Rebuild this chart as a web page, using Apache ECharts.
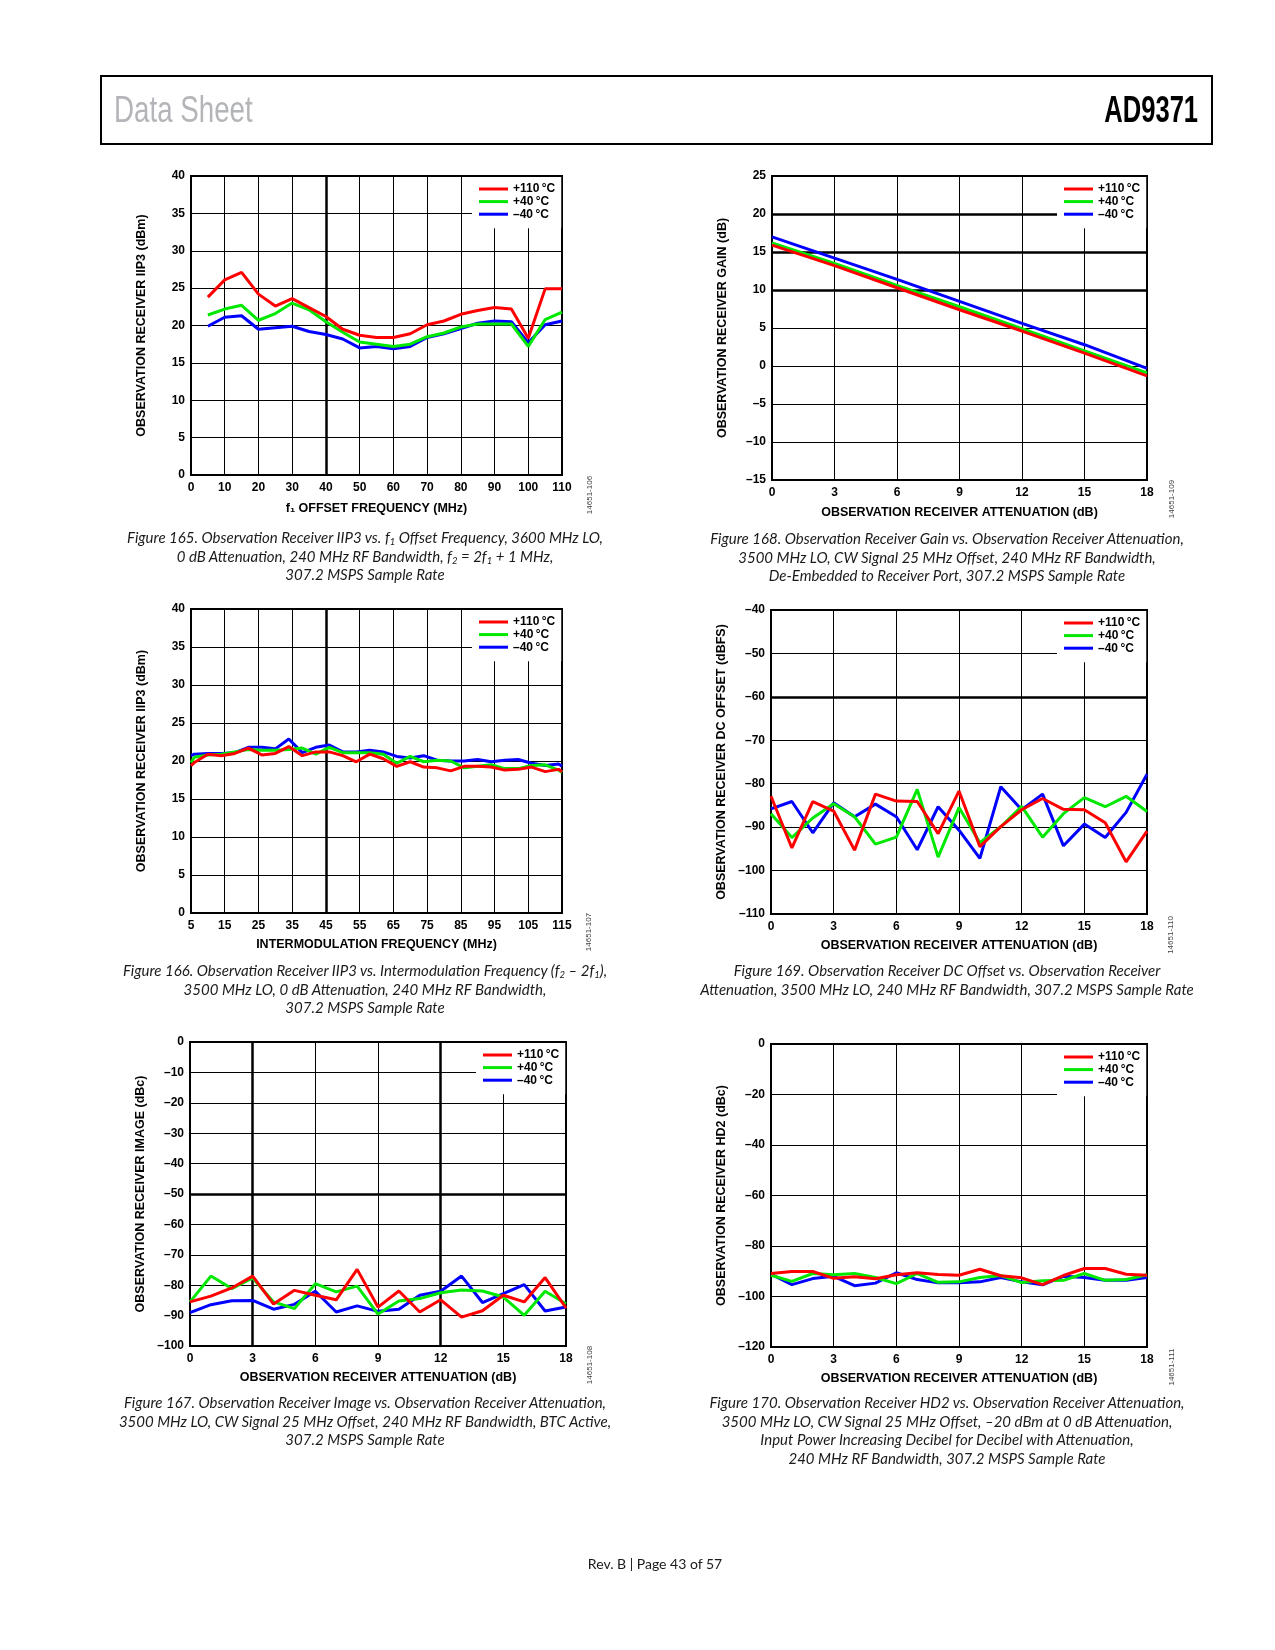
<!DOCTYPE html>
<html><head><meta charset="utf-8">
<script src="https://cdn.jsdelivr.net/npm/echarts@6/dist/echarts.min.js"></script>
<style>
html,body{margin:0;padding:0;background:#fff;}
#page{position:relative;width:1275px;height:1650px;overflow:hidden;background:#fff;}
#chart{position:absolute;left:0;top:0;width:1275px;height:1650px;}
.hdr{position:absolute;left:100px;top:75px;width:1109px;height:66px;border:2px solid #000;}
.ds{position:absolute;left:114px;top:92px;font-family:"Liberation Sans",Arial,sans-serif;font-size:36px;line-height:36px;color:#b3b5b8;transform:scaleX(0.77);transform-origin:left center;white-space:nowrap;}
.pn{position:absolute;right:77px;top:92px;font-family:"Liberation Sans",Arial,sans-serif;font-weight:bold;font-size:36px;line-height:36px;color:#000;transform:scaleX(0.71);transform-origin:right center;white-space:nowrap;}
.cap{position:absolute;width:600px;text-align:center;font-family:Lato,"Open Sans",sans-serif;font-style:italic;font-size:15px;line-height:18.5px;color:#1a1a1a;white-space:nowrap;}
.cap sub{font-size:9.5px;line-height:0;vertical-align:baseline;position:relative;top:2px;}
.foot{position:absolute;left:455px;width:400px;top:1556px;text-align:center;font-family:Lato,"Open Sans",sans-serif;font-size:14px;line-height:16px;color:#1a1a1a;}
</style></head>
<body><div id="page">
<div id="chart"></div>
<div class="hdr"></div>
<div class="ds">Data Sheet</div>
<div class="pn">AD9371</div>
<div class="cap" style="left:65px;top:528px;">Figure 165. Observation Receiver IIP3 vs. f<sub>1</sub> Offset Frequency, 3600 MHz LO,<br>0 dB Attenuation, 240 MHz RF Bandwidth, f<sub>2</sub> = 2f<sub>1</sub> + 1 MHz,<br>307.2 MSPS Sample Rate</div>
<div class="cap" style="left:65px;top:961px;">Figure 166. Observation Receiver IIP3 vs. Intermodulation Frequency (f<sub>2</sub> – 2f<sub>1</sub>),<br>3500 MHz LO, 0 dB Attenuation, 240 MHz RF Bandwidth,<br>307.2 MSPS Sample Rate</div>
<div class="cap" style="left:65px;top:1393px;">Figure 167. Observation Receiver Image vs. Observation Receiver Attenuation,<br>3500 MHz LO, CW Signal 25 MHz Offset, 240 MHz RF Bandwidth, BTC Active,<br>307.2 MSPS Sample Rate</div>
<div class="cap" style="left:647px;top:529px;">Figure 168. Observation Receiver Gain vs. Observation Receiver Attenuation,<br>3500 MHz LO, CW Signal 25 MHz Offset, 240 MHz RF Bandwidth,<br>De-Embedded to Receiver Port, 307.2 MSPS Sample Rate</div>
<div class="cap" style="left:647px;top:961px;">Figure 169. Observation Receiver DC Offset vs. Observation Receiver<br>Attenuation, 3500 MHz LO, 240 MHz RF Bandwidth, 307.2 MSPS Sample Rate</div>
<div class="cap" style="left:647px;top:1393px;">Figure 170. Observation Receiver HD2 vs. Observation Receiver Attenuation,<br>3500 MHz LO, CW Signal 25 MHz Offset, –20 dBm at 0 dB Attenuation,<br>Input Power Increasing Decibel for Decibel with Attenuation,<br>240 MHz RF Bandwidth, 307.2 MSPS Sample Rate</div>
<div class="foot">Rev. B | Page 43 of 57</div>
</div>
<script>
// ---------- DATA ----------
const seriesNames = ['+110\u2009°C', '+40\u2009°C', '–40\u2009°C'];
const seriesColors = ['#ff0000', '#00e800', '#0000ff'];

// Figure 165
const fig165_x = [5,10,15,20,25,30,35,40,45,50,55,60,65,70,75,80,85,90,95,100,105,110];
const fig165_red = [23.8,26.1,27.1,24.2,22.6,23.6,22.4,21.2,19.5,18.7,18.4,18.4,18.9,20.1,20.6,21.5,22.0,22.4,22.2,18.3,24.9,24.9];
const fig165_green = [21.4,22.2,22.7,20.7,21.6,23.0,22.1,20.5,19.1,17.8,17.5,17.2,17.5,18.5,19.0,19.8,20.2,20.2,20.2,17.2,20.8,21.8];
const fig165_blue = [19.9,21.1,21.3,19.5,19.7,19.9,19.2,18.8,18.2,17.0,17.2,16.9,17.2,18.4,18.9,19.6,20.3,20.6,20.5,17.7,20.1,20.6];

// Figure 166
const fig166_x = [5,6,10,14,18,22,26,30,34,38,42,46,50,54,58,62,66,70,74,78,82,86,90,94,98,102,106,110,114,115];
const fig166_red = [19.4,19.8,20.9,20.7,21.0,21.7,20.8,21.0,21.9,20.7,21.2,21.2,20.7,19.9,20.9,20.3,19.3,19.9,19.2,19.1,18.7,19.3,19.3,19.2,18.8,18.9,19.2,18.6,18.9,18.6];
const fig166_green = [19.8,20.5,20.8,20.9,21.2,21.5,21.4,21.4,21.5,21.7,20.9,21.8,21.1,21.1,21.1,20.9,19.7,20.6,19.9,20.1,20.0,19.1,19.3,19.5,19.0,19.0,19.4,19.5,18.8,18.5];
const fig166_blue = [20.7,20.9,21.0,21.0,21.1,21.8,21.8,21.6,22.9,21.1,21.8,22.1,21.2,21.2,21.4,21.2,20.6,20.4,20.7,20.1,20.0,20.0,20.2,19.9,20.1,20.2,19.7,19.4,19.6,19.3];

// Figure 167
const fig167_x = [0,1,2,3,4,5,6,7,8,9,10,11,12,13,14,15,16,17,18];
const fig167_red = [-85.5,-83.6,-80.9,-77.0,-86.2,-81.7,-83.3,-84.8,-74.8,-87.2,-81.9,-88.8,-84.8,-90.5,-88.4,-83.3,-85.5,-77.5,-87.5];
const fig167_green = [-85.5,-77.0,-81.1,-77.6,-85.5,-87.7,-79.5,-82.2,-80.3,-89.5,-85.2,-84.4,-82.5,-81.6,-81.9,-83.9,-89.9,-82.0,-86.1];
const fig167_blue = [-89.0,-86.4,-85.1,-85.0,-87.9,-86.3,-82.0,-88.8,-86.8,-88.6,-87.9,-83.3,-82.0,-77.0,-85.7,-82.8,-79.8,-88.5,-87.2];

// Figure 168
const fig168_x = [0,3,6,9,12,15,18];
const fig168_red = [15.9,13.2,10.3,7.4,4.6,1.7,-1.3];
const fig168_green = [16.2,13.5,10.6,7.8,4.9,2.0,-0.9];
const fig168_blue = [17.0,14.2,11.4,8.5,5.6,2.8,-0.3];

// Figure 169
const fig169_x = [0,1,2,3,4,5,6,7,8,9,10,11,12,13,14,15,16,17,18];
const fig169_red = [-82.9,-94.8,-84.1,-86.3,-95.3,-82.4,-84.0,-84.1,-91.5,-81.7,-94.5,-89.9,-86.0,-83.4,-85.9,-86.0,-89.0,-98.0,-90.9];
const fig169_green = [-86.9,-92.4,-87.9,-84.6,-87.6,-93.9,-92.3,-81.3,-96.9,-85.5,-93.6,-89.9,-85.2,-92.3,-86.9,-83.2,-85.3,-82.9,-86.4];
const fig169_blue = [-85.8,-84.1,-91.3,-84.4,-87.6,-84.7,-87.6,-95.2,-85.3,-90.7,-97.2,-80.7,-86.0,-82.4,-94.3,-89.3,-92.4,-86.6,-77.8];

// Figure 170
const fig170_x = [0,1,2,3,4,5,6,7,8,9,10,11,12,13,14,15,16,17,18];
const fig170_red = [-90.9,-90.1,-90.1,-92.8,-92.2,-93.0,-91.4,-90.6,-91.3,-91.6,-89.2,-91.8,-92.6,-95.3,-91.7,-88.9,-88.9,-91.2,-91.6];
const fig170_green = [-91.6,-94.0,-90.9,-91.4,-90.9,-92.5,-94.9,-90.9,-94.4,-94.2,-92.5,-91.7,-94.5,-93.8,-93.6,-90.9,-93.6,-93.3,-91.4];
const fig170_blue = [-91.2,-95.3,-92.9,-92.0,-95.7,-94.7,-90.6,-93.3,-94.6,-94.6,-94.2,-92.5,-94.2,-95.4,-92.0,-92.5,-93.6,-93.6,-92.5];

// ---------- LAYOUT ----------
const FONT = '"Liberation Sans", Arial, Helvetica, sans-serif';
const panels = [
  {grid:[191,176,371,299], x:fig165_x, ys:[fig165_red,fig165_green,fig165_blue], xr:[0,110,10], yr:[0,40,5],
   xname:'f\u2081 OFFSET FREQUENCY (MHz)', yname:'OBSERVATION RECEIVER IIP3 (dBm)', xGap:27, thickX:[40], thickY:[], id:'14651-106', idPos:[590,495]},
  {grid:[191,609,371,304], x:fig166_x, ys:[fig166_red,fig166_green,fig166_blue], xr:[5,115,10], yr:[0,40,5],
   xname:'INTERMODULATION FREQUENCY (MHz)', yname:'OBSERVATION RECEIVER IIP3 (dBm)', xGap:25, thickX:[45], thickY:[], id:'14651-107', idPos:[589,932]},
  {grid:[190,1042,376,304], x:fig167_x, ys:[fig167_red,fig167_green,fig167_blue], xr:[0,18,3], yr:[-100,0,10],
   xname:'OBSERVATION RECEIVER ATTENUATION (dB)', yname:'OBSERVATION RECEIVER IMAGE (dBc)', xGap:25, thickX:[3,12], thickY:[-50], id:'14651-108', idPos:[590,1365]},
  {grid:[772,176,375,304], x:fig168_x, ys:[fig168_red,fig168_green,fig168_blue], xr:[0,18,3], yr:[-15,25,5],
   xname:'OBSERVATION RECEIVER ATTENUATION (dB)', yname:'OBSERVATION RECEIVER GAIN (dB)', xGap:26, thickX:[], thickY:[20,15,10], id:'14651-109', idPos:[1172,499]},
  {grid:[771,610,376,304], x:fig169_x, ys:[fig169_red,fig169_green,fig169_blue], xr:[0,18,3], yr:[-110,-40,10],
   xname:'OBSERVATION RECEIVER ATTENUATION (dB)', yname:'OBSERVATION RECEIVER DC OFFSET (dBFS)', xGap:25, thickX:[], thickY:[-60], id:'14651-110', idPos:[1171,935]},
  {grid:[771,1044,376,303], x:fig170_x, ys:[fig170_red,fig170_green,fig170_blue], xr:[0,18,3], yr:[-120,0,20],
   xname:'OBSERVATION RECEIVER ATTENUATION (dB)', yname:'OBSERVATION RECEIVER HD2 (dBc)', xGap:25, thickX:[], thickY:[], id:'14651-111', idPos:[1172,1367]}
];

const fmt = v => (v < 0 ? '–' + Math.abs(v) : String(v));
const option = {animation:false, backgroundColor:'#fff', grid:[], xAxis:[], yAxis:[], series:[], legend:[], graphic:[]};

panels.forEach((p, i) => {
  const [gl, gt, gw, gh] = p.grid;
  option.grid.push({left:gl, top:gt, width:gw, height:gh, show:true, borderColor:'#000', borderWidth:2, backgroundColor:'transparent', containLabel:false});
  option.xAxis.push({type:'value', gridIndex:i, min:p.xr[0], max:p.xr[1], interval:p.xr[2],
    axisLine:{show:false}, axisTick:{show:false},
    splitLine:{show:true, lineStyle:{color:'#000', width:1}},
    axisLabel:{color:'#000', fontFamily:FONT, fontWeight:'bold', fontSize:12, margin:7, showMinLabel:true, showMaxLabel:true},
    name:p.xname, nameLocation:'middle', nameGap:p.xGap,
    nameTextStyle:{color:'#000', fontFamily:FONT, fontWeight:'bold', fontSize:12.5}});
  option.yAxis.push({type:'value', gridIndex:i, min:p.yr[0], max:p.yr[1], interval:p.yr[2],
    axisLine:{show:false}, axisTick:{show:false},
    splitLine:{show:true, lineStyle:{color:'#000', width:1}},
    axisLabel:{color:'#000', fontFamily:FONT, fontWeight:'bold', fontSize:12, margin:6, formatter:fmt, showMinLabel:true, showMaxLabel:true},
    name:p.yname, nameLocation:'middle', nameGap:43, nameRotate:90,
    nameTextStyle:{color:'#000', fontFamily:FONT, fontWeight:'bold', fontSize:12.5}});
  // thick grid lines (drawn beneath data and legend)
  const ml = [];
  p.thickX.forEach(v => ml.push({xAxis:v}));
  p.thickY.forEach(v => ml.push({yAxis:v}));
  option.series.push({type:'line', name:'_grid'+i, xAxisIndex:i, yAxisIndex:i, z:1, silent:true,
    data:[[p.xr[0], p.yr[0]]], symbol:'none', lineStyle:{opacity:0},
    markLine:{z:1, silent:true, symbol:['none','none'], label:{show:false}, animation:false,
      lineStyle:{color:'#000', width:2.5, type:'solid'}, data:ml}});
  // data series: blue first, red on top
  [2,1,0].forEach(k => {
    option.series.push({type:'line', name:seriesNames[k], xAxisIndex:i, yAxisIndex:i, z:2+(2-k),
      data:p.x.map((xv, j) => [xv, p.ys[k][j]]), symbol:'none', smooth:false,
      lineStyle:{color:seriesColors[k], width:3}, itemStyle:{color:seriesColors[k]}});
  });
  option.legend.push({data:seriesNames, orient:'vertical', left:gl+gw-90, top:gt+1, width:89,
    icon:'rect', itemWidth:29, itemHeight:3, itemGap:0.6, padding:[6,6,8,7],
    backgroundColor:'#fff', selectedMode:false, z:8,
    textStyle:{color:'#000', fontFamily:FONT, fontWeight:'bold', fontSize:12, lineHeight:12}});
  option.graphic.push({type:'text', x:p.idPos[0], y:p.idPos[1], rotation:Math.PI/2,
    style:{text:p.id, fontSize:8, fontFamily:FONT, fill:'#444', align:'center', verticalAlign:'middle'}});
});

const chart = echarts.init(document.getElementById('chart'), null, {renderer:'canvas'});
chart.setOption(option);
</script>
</body></html>
